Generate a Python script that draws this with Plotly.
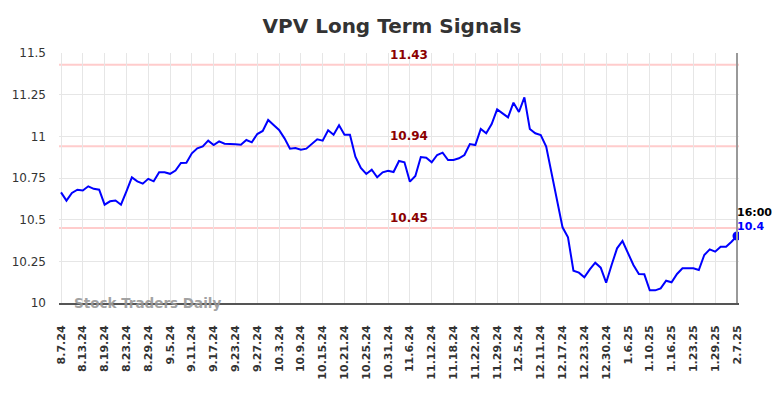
import plotly.graph_objects as go

# ---- data ----
prices = [
    10.664, 10.614, 10.66, 10.68, 10.675, 10.70, 10.685, 10.68, 10.59, 10.61,
    10.615, 10.59, 10.67, 10.754, 10.73, 10.716, 10.745, 10.73, 10.784, 10.784,
    10.775, 10.795, 10.84, 10.842, 10.898, 10.928, 10.94, 10.974, 10.948, 10.97,
    10.956, 10.956, 10.952, 10.95, 10.978, 10.964, 11.014, 11.032, 11.098, 11.068,
    11.038, 10.988, 10.926, 10.93, 10.92, 10.926, 10.954, 10.982, 10.974, 11.036,
    11.01, 11.066, 11.01, 11.01, 10.878, 10.81, 10.774, 10.80, 10.754, 10.784,
    10.794, 10.786, 10.852, 10.844, 10.728, 10.762, 10.876, 10.872, 10.844, 10.888,
    10.902, 10.858, 10.858, 10.868, 10.888, 10.954, 10.948, 11.044, 11.018, 11.074,
    11.162, 11.138, 11.114, 11.202, 11.146, 11.234, 11.044, 11.018, 11.008, 10.938,
    10.78, 10.62, 10.454, 10.394, 10.194, 10.182, 10.154, 10.202, 10.242, 10.212,
    10.122, 10.228, 10.328, 10.372, 10.298, 10.228, 10.174, 10.172, 10.076, 10.076,
    10.088, 10.134, 10.124, 10.174, 10.208, 10.208, 10.208, 10.198, 10.288, 10.322,
    10.308, 10.338, 10.338, 10.368, 10.402,
]
tick_labels = [
    "8.7.24", "8.13.24", "8.19.24", "8.23.24", "8.29.24", "9.5.24", "9.11.24",
    "9.17.24", "9.23.24", "9.27.24", "10.3.24", "10.9.24", "10.15.24", "10.21.24",
    "10.25.24", "10.31.24", "11.6.24", "11.12.24", "11.18.24", "11.22.24",
    "11.29.24", "12.5.24", "12.11.24", "12.17.24", "12.23.24", "12.30.24",
    "1.6.25", "1.10.25", "1.16.25", "1.23.25", "1.29.25", "2.7.25",
]
tick_step = 4
signal_levels = [11.43, 10.94, 10.45]
y_ticks = [10, 10.25, 10.5, 10.75, 11, 11.25, 11.5]
y_tick_text = ["10", "10.25", "10.5", "10.75", "11", "11.25", "11.5"]
last_time = "16:00"
last_label = "10.4"
title = "VPV Long Term Signals"
watermark = "Stock Traders Daily"

x = list(range(len(prices)))
last_i = x[-1]

fig = go.Figure()
fig.add_trace(go.Scatter(
    x=x, y=prices, mode="lines",
    line=dict(color="#0000ff", width=2), hoverinfo="skip", showlegend=False,
))
fig.add_trace(go.Scatter(
    x=[last_i], y=[prices[-1]], mode="markers",
    marker=dict(color="#0000ff", size=9), hoverinfo="skip", showlegend=False,
))

for lvl in signal_levels:
    fig.add_shape(type="line", xref="paper", x0=0, x1=1, yref="y", y0=lvl, y1=lvl,
                  line=dict(color="#ffcccc", width=2), layer="below")
    fig.add_annotation(x=63.8, y=lvl, xref="x", yref="y", text=f"<b>{lvl:.2f}</b>",
                       showarrow=False, yanchor="bottom", xanchor="center", yshift=1,
                       font=dict(family="DejaVu Sans", size=12, color="#8b0000"))

# vertical line at last point
fig.add_shape(type="line", xref="x", x0=last_i, x1=last_i, yref="paper", y0=0, y1=1,
              line=dict(color="#999999", width=2))

fig.add_annotation(x=last_i, y=prices[-1], xref="x", yref="y", text=f"<b>{last_time}</b>",
                   showarrow=False, xanchor="left", yanchor="middle", xshift=-2, yshift=24,
                   font=dict(family="DejaVu Sans", size=11, color="#000000"))
fig.add_annotation(x=last_i, y=prices[-1], xref="x", yref="y", text=f"<b>{last_label}</b>",
                   showarrow=False, xanchor="left", yanchor="middle", xshift=-2, yshift=10,
                   font=dict(family="DejaVu Sans", size=11, color="#0000ff"))

fig.add_annotation(x=0.019, y=10, xref="paper", yref="y", text=f"<b>{watermark}</b>",
                   showarrow=False, xanchor="left", yanchor="middle", opacity=0.9,
                   font=dict(family="DejaVu Sans", size=13.5, color="#999999"))

# the page has an 8px body margin, so the figure is 768x382 placed at (8, 8)
fig.update_layout(
    width=768, height=382,
    margin=dict(l=51, r=37, t=45, b=87, autoexpand=False),
    paper_bgcolor="white", plot_bgcolor="white",
    title=dict(text=f"<b>{title}</b>", x=0.5, xanchor="center", y=0.953, yanchor="middle",
               font=dict(family="DejaVu Sans", size=20, color="#333333")),
    font=dict(family="DejaVu Sans", color="#333333"),
)
fig.update_xaxes(
    automargin=False,
    range=[-0.37, len(prices) - 1 + 0.37],
    tickmode="array",
    tickvals=[i * tick_step for i in range(len(tick_labels))],
    ticktext=[f"<b>{t}</b>" for t in tick_labels],
    tickangle=-90, ticklabelstandoff=16,
    tickfont=dict(family="DejaVu Sans", size=11, color="#333333"),
    showgrid=True, gridcolor="#e6e6e6", gridwidth=1,
    showline=True, linecolor="#555555", linewidth=2,
    zeroline=False, ticks="",
)
fig.update_yaxes(
    automargin=False,
    range=[10, 11.5],
    tickmode="array", tickvals=y_ticks, ticktext=y_tick_text,
    ticklabelstandoff=12,
    tickfont=dict(family="DejaVu Sans", size=12, color="#333333"),
    showgrid=True, gridcolor="#e6e6e6", gridwidth=1,
    showline=False, zeroline=False, ticks="",
)

fig.write_html("out.html")
